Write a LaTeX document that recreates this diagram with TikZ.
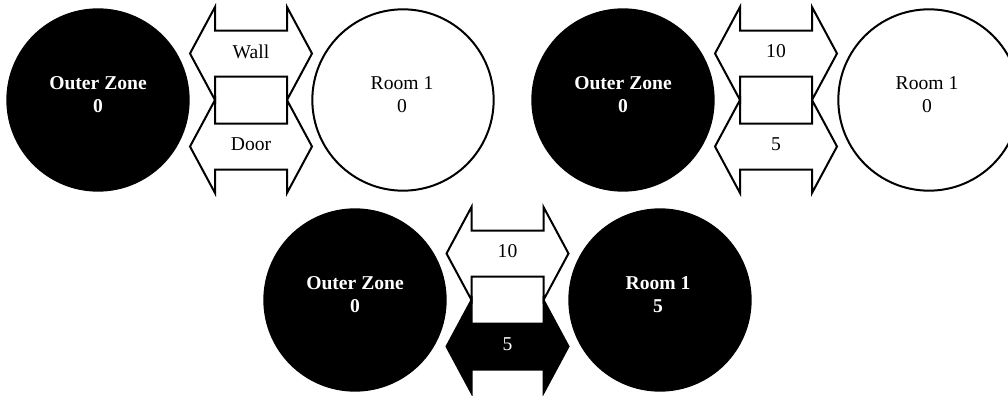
\documentclass[tikz,border=0pt]{standalone}
\usepackage{fontspec}
\setmainfont{Liberation Serif}
\begin{document}
\begin{tikzpicture}[x=0.75pt, y=-0.75pt, line width=1.5pt, line join=miter,
  zone/.style={circle, draw=black, minimum size=136pt, inner sep=0pt},
  darkzone/.style={zone, fill=black},
  lightzone/.style={zone, fill=white},
  zonetext/.style={align=center, font=\fontsize{14.7}{17.25}\selectfont},
  darktext/.style={zonetext, text=white, font=\fontsize{14.7}{17.25}\selectfont\bfseries},
  lighttext/.style={zonetext, text=black},
  flowlbl/.style={font=\fontsize{14.7}{17.25}\selectfont, inner sep=0pt},
  openflow/.style={draw=black, fill=white},
  fullflow/.style={draw=black, fill=black}]
\useasboundingbox (0,0) rectangle (1008,396);

% left-right arrow centred at (#1,#2)
\newcommand\flowarrow[3]{%
  \draw[#3] (#1-61,#2) -- ++(25,-46.5) -- ++(0,23.5) -- ++(72,0) -- ++(0,-23.5)
    -- ++(25,46.5) -- ++(-25,46.5) -- ++(0,-23.5) -- ++(-72,0) -- ++(0,23.5) -- cycle;}

% ---- first state: labels of the two links ----
\node[darkzone] (oz1) at (98,100) {};
\node[darktext] (oz1t) at (98,95) {Outer Zone\\0};
\node[lightzone] (r1) at (403,100) {};
\node[lighttext] (r1t) at (402,95) {Room 1\\0};
\flowarrow{251}{53.5}{openflow}
\flowarrow{251}{146.5}{openflow}
\node[flowlbl] (wall) at (251,51.5) {Wall};
\node[flowlbl] (door) at (251,144) {Door};

% ---- second state: link values ----
\node[darkzone] (oz2) at (623,100) {};
\node[darktext] (oz2t) at (623,95) {Outer Zone\\0};
\node[lightzone] (r2) at (929,100) {};
\node[lighttext] (r2t) at (927,95) {Room 1\\0};
\flowarrow{776}{53.5}{openflow}
\flowarrow{776}{146.5}{openflow}
\node[flowlbl] (v2a) at (776,51.5) {10};
\node[flowlbl] (v2b) at (776,144) {5};

% ---- third state: door link active ----
\node[darkzone] (oz3) at (355,300) {};
\node[darktext] (oz3t) at (355,295) {Outer Zone\\0};
\node[darkzone] (r3) at (660,300) {};
\node[darktext] (r3t) at (658,295) {Room 1\\5};
\flowarrow{507.5}{253.5}{openflow}
\flowarrow{507.5}{346.5}{fullflow}
\node[flowlbl] (v3a) at (507.5,251.5) {10};
\node[flowlbl, text=white] (v3b) at (507.5,344) {5};
\end{tikzpicture}
\end{document}
